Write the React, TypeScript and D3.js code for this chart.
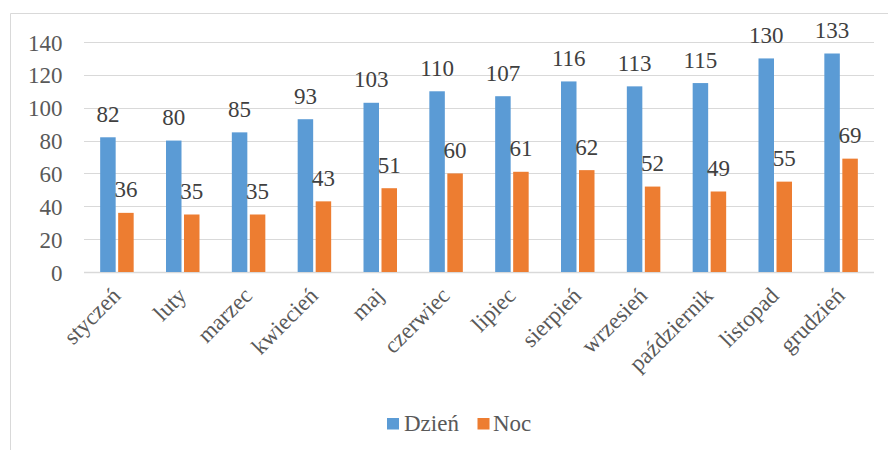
import React from "react";
import * as d3 from "d3";

const months = ["styczeń", "luty", "marzec", "kwiecień", "maj", "czerwiec", "lipiec", "sierpień", "wrzesień", "październik", "listopad", "grudzień"];
const seriesNames = ["Dzień", "Noc"];
const dayValues = [82, 80, 85, 93, 103, 110, 107, 116, 113, 115, 130, 133];
const nightValues = [36, 35, 35, 43, 51, 60, 61, 62, 52, 49, 55, 69];
const yTicks = [0, 20, 40, 60, 80, 100, 120, 140];
const colors = ["#5b9bd5", "#ed7d31"];

const W = 888, H = 450;
const FONT = "Liberation Serif, Times New Roman, serif";
const FS = 23;

export default function App() {
  const x = d3.scaleBand<string>().domain(months).range([84, 874]);
  const y = d3.scaleLinear().domain([0, 140]).range([272, 42]);
  const barW = 15.5, gap = 2.5;
  const series = [dayValues, nightValues];
  const ts = { fontFamily: FONT, fontSize: FS };
  return (
    <svg width={W} height={H} style={{ position: "absolute", left: 0, top: 0, background: "#fff" }}>
      <rect x={0} y={0} width={W} height={H} fill="#fff" />
      <line x1={10.5} y1={13.5} x2={10.5} y2={H} stroke="#d9d9d9" />
      <line x1={10.5} y1={13.5} x2={W} y2={13.5} stroke="#d9d9d9" />
      {yTicks.map((t) => (
        <g key={t}>
          <line x1={84} x2={874} y1={Math.round(y(t)) + 0.5} y2={Math.round(y(t)) + 0.5} stroke="#d9d9d9" strokeWidth={t === 0 ? 1.5 : 1} />
          <text x={62.5} y={y(t) + 8.5} textAnchor="end" style={ts} fill="#595959">{t}</text>
        </g>
      ))}
      {months.map((m, i) => {
        const c = (x(m) as number) + x.bandwidth() / 2;
        return (
          <g key={m}>
            {series.map((vals, s) => {
              const bx = s === 0 ? c - gap / 2 - barW : c + gap / 2;
              return (
                <g key={s}>
                  <rect x={bx} y={y(vals[i])} width={barW} height={y(0) - y(vals[i])} fill={colors[s]} />
                  <text x={bx + barW / 2} y={y(vals[i]) - 15.5} textAnchor="middle" style={ts} fill="#404040">{vals[i]}</text>
                </g>
              );
            })}
            <text transform={`translate(${c + 5},${297}) rotate(-45)`} textAnchor="end" style={ts} fill="#595959">{m}</text>
          </g>
        );
      })}
      <g>
        <rect x={387} y={418} width={12} height={11.5} fill={colors[0]} />
        <text x={404} y={431} style={ts} fill="#595959">{seriesNames[0]}</text>
        <rect x={477.5} y={418} width={12} height={11.5} fill={colors[1]} />
        <text x={493} y={431} style={ts} fill="#595959">{seriesNames[1]}</text>
      </g>
    </svg>
  );
}
